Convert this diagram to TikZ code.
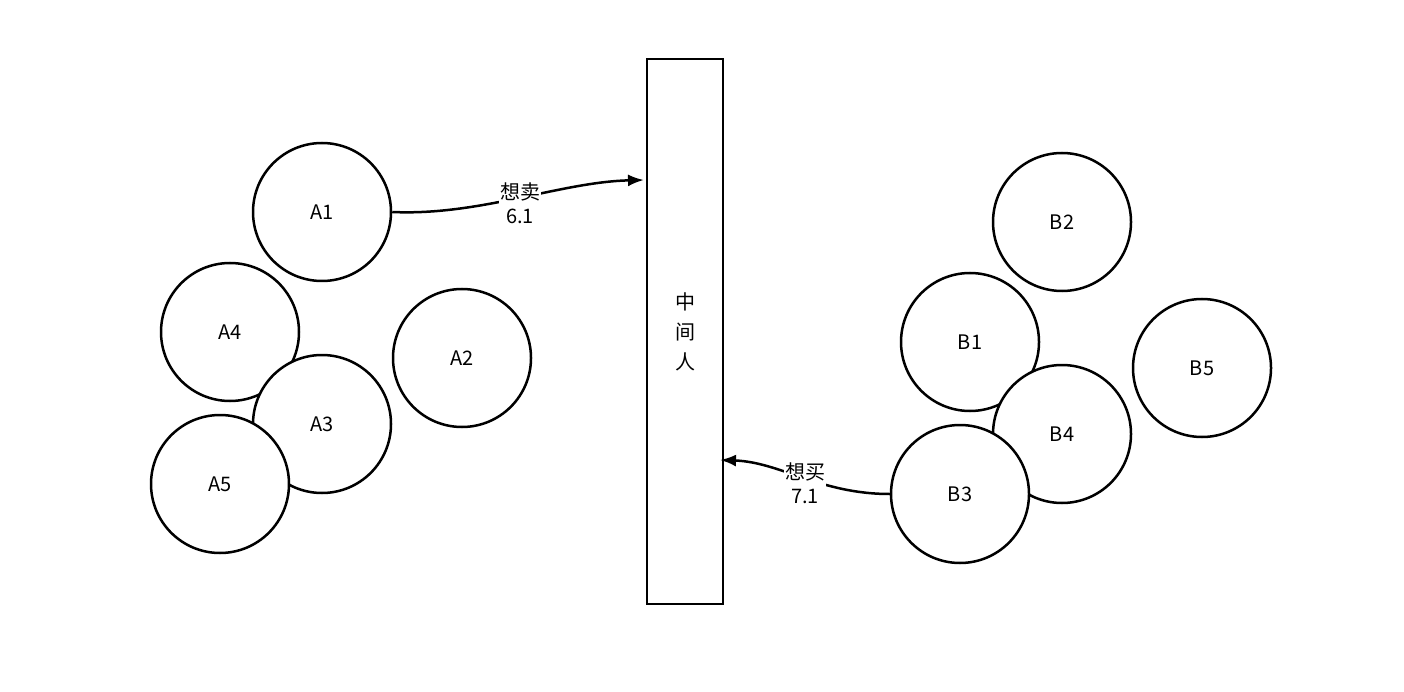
\documentclass[tikz,border=0pt]{standalone}
\usepackage{fontspec}
\setmainfont{Noto Sans CJK SC}
\usetikzlibrary{arrows.meta}
\begin{document}
\begin{tikzpicture}[x=1pt,y=-1pt,
  circ/.style={circle,draw,line width=2.5pt,fill=white,minimum size=138pt,inner sep=0pt,font=\fontsize{20}{24}\selectfont},
  lbl/.style={fill=white,inner sep=1pt,align=center,font=\fontsize{20}{24}\selectfont},
  arr/.style={line width=2.5pt,-{Latex[length=16pt,width=12pt]}}]
\useasboundingbox (0,0) rectangle (1404,692);
\node[draw,line width=2.5pt,minimum width=76pt,minimum height=545pt,inner sep=0pt,font=\fontsize{20}{30}\selectfont,align=center] (M) at (685,331.5) {中\\间\\人};
\node[circ] (A1) at (322,212) {A1};
\node[circ] (A2) at (462,358) {A2};
\node[circ] (A4) at (230,332) {A4};
\node[circ] (A3) at (322,424) {A3};
\node[circ] (A5) at (220,484) {A5};
\node[circ] (B2) at (1062,222) {B2};
\node[circ] (B5) at (1202,368) {B5};
\node[circ] (B1) at (970,342) {B1};
\node[circ] (B4) at (1062,434) {B4};
\node[circ] (B3) at (960,494) {B3};
\coordinate (t1) at (644,180);
\coordinate (t2) at (720,460);
\draw[arr] (A1.east) .. controls (480,216) and (560,182) .. (t1);
\draw[arr] (B3.west) .. controls (820,494) and (780,462) .. (t2);
\node[lbl] at (520,203) {想卖\\6.1};
\node[lbl] at (805,483) {想买\\7.1};
\end{tikzpicture}
\end{document}
